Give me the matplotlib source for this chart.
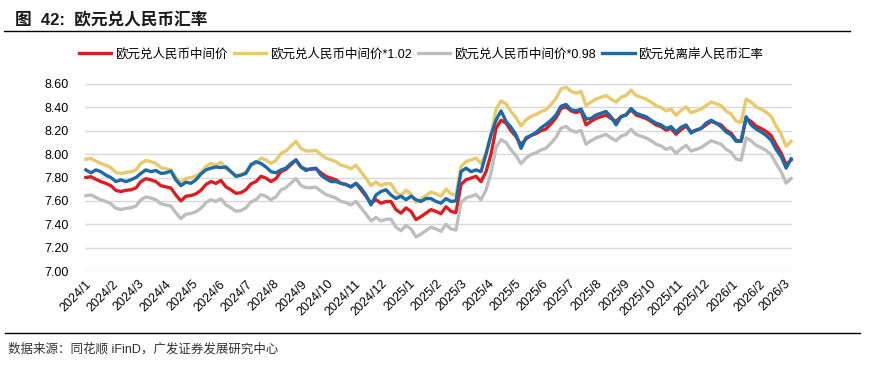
import numpy as np
import pandas as pd
import matplotlib
matplotlib.use('Agg')
import matplotlib.pyplot as plt
from matplotlib.lines import Line2D

plt.rcParams['font.family'] = ['Liberation Sans', 'Noto Sans CJK SC']
plt.rcParams['axes.unicode_minus'] = False

# EUR/CNY central parity (roughly every 5-6 days)
mid = [7.80, 7.807, 7.785, 7.765, 7.75, 7.73, 7.69, 7.68, 7.69, 7.695,
       7.71, 7.765, 7.79, 7.78, 7.765, 7.73, 7.72, 7.71, 7.65, 7.60,
       7.64, 7.645, 7.66, 7.69, 7.74, 7.765, 7.75, 7.775, 7.72, 7.695,
       7.665, 7.67, 7.695, 7.745, 7.765, 7.81, 7.795, 7.765, 7.79, 7.85,
       7.87, 7.91, 7.95, 7.89, 7.87, 7.87, 7.875, 7.84, 7.81, 7.795,
       7.78, 7.75, 7.74, 7.72, 7.75, 7.695, 7.64, 7.58, 7.61, 7.58,
       7.595, 7.595, 7.525, 7.495, 7.54, 7.51, 7.44, 7.465, 7.495, 7.525,
       7.51, 7.49, 7.55, 7.51, 7.50, 7.74, 7.78, 7.795, 7.81, 7.765,
       7.85, 8.00, 8.22, 8.29, 8.265, 8.20, 8.15, 8.08, 8.13, 8.16,
       8.175, 8.20, 8.215, 8.26, 8.31, 8.39, 8.405, 8.37, 8.355, 8.37,
       8.25, 8.28, 8.305, 8.32, 8.335, 8.305, 8.28, 8.32, 8.335, 8.38,
       8.335, 8.32, 8.305, 8.28, 8.25, 8.235, 8.205, 8.22, 8.17, 8.21,
       8.24, 8.19, 8.205, 8.22, 8.25, 8.28, 8.265, 8.25, 8.205, 8.18,
       8.12, 8.11, 8.305, 8.28, 8.24, 8.22, 8.195, 8.16, 8.08, 8.01,
       7.91, 7.95]

# EUR/CNH offshore rate
offshore = [7.865, 7.84, 7.865, 7.85, 7.82, 7.80, 7.765, 7.78, 7.765, 7.78,
            7.80, 7.835, 7.865, 7.85, 7.86, 7.835, 7.84, 7.855, 7.78, 7.73,
            7.76, 7.75, 7.78, 7.83, 7.865, 7.88, 7.89, 7.885, 7.89, 7.85,
            7.81, 7.82, 7.835, 7.91, 7.935, 7.92, 7.89, 7.85, 7.84, 7.865,
            7.88, 7.92, 7.95, 7.89, 7.86, 7.875, 7.88, 7.82, 7.79, 7.765,
            7.765, 7.75, 7.74, 7.72, 7.75, 7.71, 7.65, 7.565, 7.65, 7.68,
            7.695, 7.65, 7.62, 7.64, 7.61, 7.64, 7.61, 7.595, 7.62, 7.62,
            7.595, 7.58, 7.62, 7.595, 7.60, 7.85, 7.88, 7.85, 7.865, 7.85,
            8.00, 8.165, 8.29, 8.37, 8.28, 8.23, 8.165, 8.05, 8.14, 8.16,
            8.185, 8.225, 8.255, 8.29, 8.335, 8.41, 8.425, 8.38, 8.37, 8.385,
            8.30, 8.305, 8.335, 8.35, 8.365, 8.32, 8.25, 8.32, 8.335, 8.39,
            8.35, 8.335, 8.32, 8.29, 8.265, 8.25, 8.22, 8.235, 8.19, 8.23,
            8.25, 8.18, 8.205, 8.22, 8.265, 8.29, 8.265, 8.235, 8.19, 8.165,
            8.11, 8.11, 8.32, 8.25, 8.215, 8.19, 8.16, 8.12, 8.04, 7.98,
            7.88, 7.96]

dates = pd.date_range('2024-01-02', '2026-03-09', periods=len(mid))
mid = np.array(mid)
offshore = np.array(offshore)
mid_up = mid * 1.02
mid_down = mid * 0.98

labels = ['欧元兑人民币中间价', '欧元兑人民币中间价*1.02',
          '欧元兑人民币中间价*0.98', '欧元兑离岸人民币汇率']
colors = ['#DC1E23', '#E8C96C', '#BEBEBE', '#1D6AA5']

fig = plt.figure(figsize=(8.71, 3.66), dpi=100)
ax = fig.add_axes([85 / 871, 1 - 271 / 366, 707 / 871, 187 / 366])

series = [mid, mid_up, mid_down, offshore]
lines = []
for s, c, lab in zip(series, colors, labels):
    ln, = ax.plot(dates, s, color=c, lw=2.4, label=lab, clip_on=False)
    lines.append(ln)

ax.set_ylim(7.0, 8.6)
ax.set_yticks(np.arange(7.0, 8.61, 0.2))
ax.set_yticklabels(['%.2f' % v for v in np.arange(7.0, 8.61, 0.2)], fontsize=9)
ax.set_xlim(pd.Timestamp('2024-01-01'), pd.Timestamp('2026-03-10'))
months = pd.date_range('2024-01-01', '2026-03-01', freq='MS')
ax.set_xticks(months)
ax.set_xticklabels([f'{d.year}/{d.month}' for d in months], fontsize=9,
                   rotation=45, ha='right', rotation_mode='anchor')
ax.tick_params(axis='both', length=0)
ax.tick_params(axis='y', pad=12)
ax.tick_params(axis='x', pad=5)
for sp in ax.spines.values():
    sp.set_visible(False)
ax.grid(axis='y', color='#D9D9D9', lw=1)
ax.set_axisbelow(True)

fig.legend(handles=lines, labels=labels, loc='center',
           bbox_to_anchor=(421 / 871, 1 - 54 / 366), ncol=4, frameon=False,
           fontsize=9, handlelength=2.6, handletextpad=0.3, columnspacing=0.5)

fig.text(15 / 871, 1 - 20 / 366, '图  42:  欧元兑人民币汇率', fontsize=12,
         fontweight='bold', va='center', color='#1a1a1a')
fig.add_artist(Line2D([4 / 871, 850 / 871], [1 - 31 / 366] * 2, color='black', lw=1))
fig.add_artist(Line2D([5 / 871, 860 / 871], [1 - 333 / 366] * 2, color='black', lw=1))
fig.text(8 / 871, 1 - 349 / 366, '数据来源：同花顺 iFinD，广发证券发展研究中心',
         fontsize=9, va='center', color='#333333')

fig.savefig('out.png', dpi=100)
